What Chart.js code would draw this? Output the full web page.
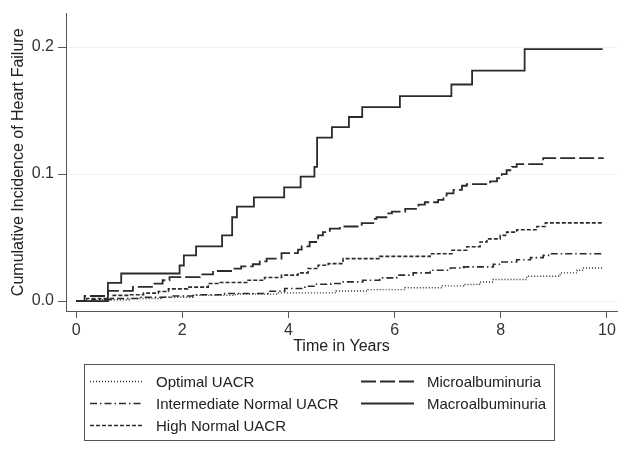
<!DOCTYPE html>
<html>
<head>
<meta charset="utf-8">
<script src="https://cdn.jsdelivr.net/npm/chart.js@4/dist/chart.umd.min.js"></script>
<style>
html,body{margin:0;padding:0;background:#fff;}
#wrap{width:629px;height:452px;position:relative;}
</style>
</head>
<body>
<div id="wrap"><canvas id="c" width="629" height="452"></canvas></div>
<script>
// ---- data ----
const xTicks = [0, 2, 4, 6, 8, 10];
const yTicks = [0, 0.1, 0.2];
const yTickLabels = ["0.0", "0.1", "0.2"];
const seriesNames = ["Optimal UACR", "Intermediate Normal UACR", "High Normal UACR", "Microalbuminuria", "Macroalbuminuria"];

const optimalT = [0, 0.4, 1.0, 1.6, 2.2, 3.0, 3.8, 4.9, 5.5, 6.2, 6.9, 7.3, 7.6, 7.86, 8.49, 9.12, 9.44, 9.56, 9.92];
const optimalV = [0, 0.001, 0.002, 0.003, 0.0045, 0.0055, 0.0065, 0.008, 0.009, 0.0105, 0.012, 0.0131, 0.015, 0.017, 0.0196, 0.0222, 0.0243, 0.026, 0.026];

const intermT = [0, 0.3, 0.7, 1.2, 1.8, 2.2, 2.8, 3.62, 3.93, 4.31, 4.5, 4.8, 5.03, 5.4, 5.72, 6.04, 6.35, 6.67, 7.05, 7.3, 7.86, 8.02, 8.3, 8.56, 8.8, 8.9, 9.92];
const intermV = [0, 0.001, 0.002, 0.003, 0.004, 0.005, 0.006, 0.0078, 0.0099, 0.0117, 0.0133, 0.0138, 0.0151, 0.0164, 0.0183, 0.0204, 0.0222, 0.0243, 0.026, 0.0269, 0.029, 0.0308, 0.0326, 0.0342, 0.036, 0.0373, 0.0373];

const highT = [0, 0.2, 0.7, 1.0, 1.27, 1.55, 1.74, 2.1, 2.49, 2.7, 3.24, 3.55, 3.87, 4.18, 4.37, 4.56, 4.75, 5.03, 5.72, 6.67, 7.08, 7.36, 7.61, 7.74, 7.99, 8.11, 8.3, 8.68, 8.84, 9.92];
const highV = [0, 0.002, 0.0045, 0.005, 0.0063, 0.0076, 0.0096, 0.011, 0.0138, 0.0146, 0.0164, 0.0186, 0.0204, 0.0222, 0.0256, 0.0282, 0.0295, 0.0334, 0.0352, 0.0373, 0.04, 0.0428, 0.0465, 0.049, 0.0517, 0.0543, 0.0561, 0.0587, 0.0616, 0.0616];

const microT = [0, 0.16, 0.6, 1.07, 1.45, 1.63, 1.76, 2.33, 2.58, 2.95, 3.11, 3.33, 3.46, 3.59, 3.87, 4.18, 4.25, 4.40, 4.56, 4.65, 4.78, 4.97, 5.38, 5.6, 5.66, 5.88, 5.95, 6.2, 6.45, 6.57, 6.82, 6.92, 6.98, 7.11, 7.27, 7.36, 7.8, 7.93, 8.02, 8.11, 8.21, 8.3, 8.8, 9.94];
const microV = [0, 0.004, 0.008, 0.0112, 0.0138, 0.0164, 0.0188, 0.021, 0.0237, 0.0256, 0.0274, 0.029, 0.0313, 0.0334, 0.0378, 0.0405, 0.043, 0.0465, 0.0517, 0.0543, 0.057, 0.0587, 0.0613, 0.0647, 0.066, 0.0691, 0.0705, 0.0726, 0.076, 0.0778, 0.0796, 0.083, 0.0848, 0.0875, 0.0908, 0.0921, 0.0942, 0.0968, 0.1, 0.103, 0.1057, 0.1078, 0.1125, 0.1125];

const macroT = [0, 0.6, 0.85, 1.95, 2.03, 2.26, 2.75, 2.94, 3.03, 3.35, 3.92, 4.23, 4.49, 4.54, 4.82, 5.14, 5.39, 6.1, 7.07, 7.46, 8.45, 9.92];
const macroV = [0, 0.0143, 0.0217, 0.028, 0.036, 0.043, 0.0517, 0.066, 0.0744, 0.0817, 0.0895, 0.0979, 0.1057, 0.1287, 0.137, 0.1449, 0.1527, 0.1613, 0.1705, 0.1814, 0.1984, 0.1984];

// ---- styling ----
const FONT = "'Liberation Sans', Arial, sans-serif";
const lineColor = '#2b2b2b';
const dashes = [[1, 2], [7, 3, 1.5, 3], [4, 2], [15, 4], []];
const widths = [1.4, 1.6, 1.6, 1.8, 1.8];

function pts(t, v) { return t.map((x, i) => ({ x: x, y: v[i] })); }
const seriesData = [pts(optimalT, optimalV), pts(intermT, intermV), pts(highT, highV), pts(microT, microV), pts(macroT, macroV)];

const datasets = seriesData.map((d, i) => ({
  label: seriesNames[i],
  data: d,
  borderColor: lineColor,
  borderWidth: widths[i],
  borderDash: dashes[i],
  pointRadius: 0,
  fill: false,
  stepped: 'before',
  tension: 0
}));

const legendPlugin = {
  id: 'stataLegend',
  afterDraw(chart) {
    const ctx = chart.ctx;
    ctx.save();
    ctx.strokeStyle = '#555';
    ctx.lineWidth = 1;
    ctx.setLineDash([]);
    ctx.strokeRect(84.5, 364.5, 470, 76);
    const items = [
      { i: 0, x: 90, y: 381.5 },
      { i: 1, x: 90, y: 403.5 },
      { i: 2, x: 90, y: 425.5 },
      { i: 3, x: 361, y: 381.5 },
      { i: 4, x: 361, y: 403.5 }
    ];
    ctx.font = '15px ' + FONT;
    ctx.fillStyle = '#222';
    ctx.textBaseline = 'middle';
    items.forEach(it => {
      ctx.beginPath();
      ctx.setLineDash(dashes[it.i]);
      ctx.lineWidth = widths[it.i];
      ctx.strokeStyle = lineColor;
      ctx.moveTo(it.x, it.y);
      ctx.lineTo(it.x + 53, it.y);
      ctx.stroke();
      ctx.setLineDash([]);
      ctx.fillText(seriesNames[it.i], it.x + 66, it.y + 1);
    });
    ctx.restore();
  }
};

new Chart(document.getElementById('c'), {
  type: 'line',
  data: { datasets: datasets },
  plugins: [legendPlugin],
  options: {
    responsive: false,
    animation: false,
    events: [],
    layout: { padding: { left: 0, right: 12, top: 12, bottom: 91 } },
    plugins: { legend: { display: false }, tooltip: { enabled: false } },
    scales: {
      x: {
        type: 'linear',
        min: -0.19,
        max: 10.19,
        afterBuildTicks: s => { s.ticks = xTicks.map(v => ({ value: v })); },
        afterFit: s => { s.height = 50; },
        grid: { drawOnChartArea: false, drawTicks: true, tickLength: 7, tickColor: '#555' },
        border: { display: true, color: '#555', width: 1 },
        ticks: { color: '#333', font: { size: 16, family: FONT }, padding: 3, maxRotation: 0, callback: v => String(v) },
        title: { display: true, text: 'Time in Years', color: '#222', font: { size: 16, family: FONT }, padding: { top: 0, bottom: 5 } }
      },
      y: {
        type: 'linear',
        min: -0.0078,
        max: 0.2263,
        afterBuildTicks: s => { s.ticks = yTicks.map(v => ({ value: v })); },
        afterFit: s => { s.width = 66; },
        grid: { drawOnChartArea: true, color: '#f1f1f1', drawTicks: true, tickLength: 8, tickColor: '#555' },
        border: { display: true, color: '#555', width: 1 },
        ticks: { color: '#333', font: { size: 16, family: FONT }, padding: 4, callback: (v) => yTickLabels[yTicks.indexOf(v)] },
        title: { display: true, text: 'Cumulative Incidence of Heart Failure', color: '#222', font: { size: 16, family: FONT }, padding: { top: 9, bottom: 0 } }
      }
    }
  }
});
</script>
</body>
</html>
